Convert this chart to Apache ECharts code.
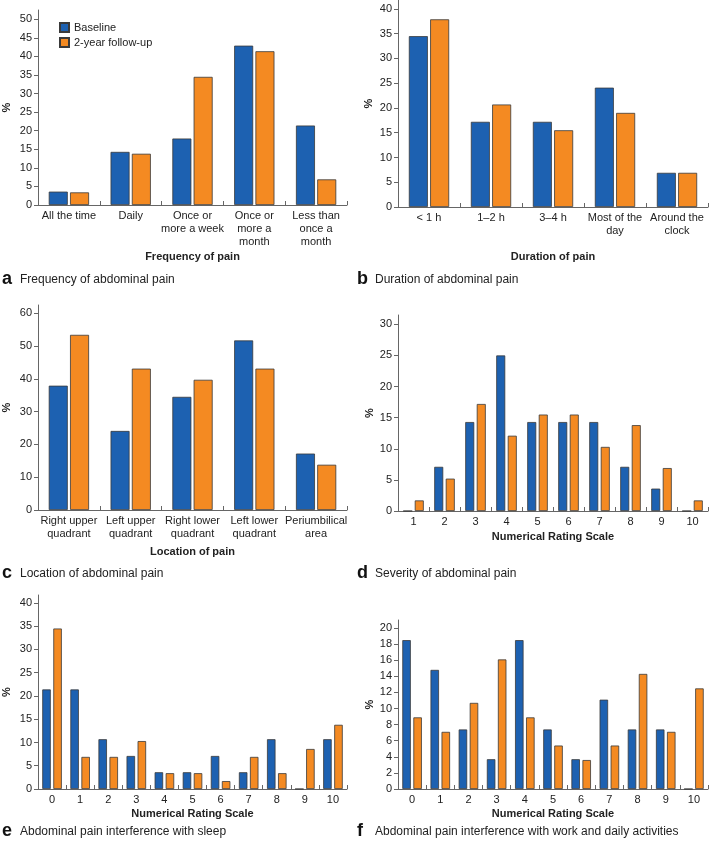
<!DOCTYPE html>
<html>
<head>
<meta charset="utf-8">
<script src="https://cdn.jsdelivr.net/npm/echarts@6/dist/echarts.min.js"></script>
<style>
html,body{margin:0;padding:0;background:#fff;}
#chart{width:709px;height:844px;}
</style>
</head>
<body>
<div id="chart"></div>
<script>
// ---------- data ----------
const seriesNames = ['Baseline', '2-year follow-up'];

const freqCats = ['All the time', 'Daily', 'Once or\nmore a week', 'Once or\nmore a\nmonth', 'Less than\nonce a\nmonth'];
const freqBase = [3.6, 14.3, 17.9, 42.9, 21.4];
const freqFollow = [3.4, 13.8, 34.5, 41.4, 6.9];
const freqTicks = [0, 5, 10, 15, 20, 25, 30, 35, 40, 45, 50];

const durCats = ['< 1 h', '1\u20132 h', '3\u20134 h', 'Most of the\nday', 'Around the\nclock'];
const durBase = [34.5, 17.2, 17.2, 24.1, 6.9];
const durFollow = [37.9, 20.7, 15.5, 19.0, 6.9];
const durTicks = [0, 5, 10, 15, 20, 25, 30, 35, 40];

const locCats = ['Right upper\nquadrant', 'Left upper\nquadrant', 'Right lower\nquadrant', 'Left lower\nquadrant', 'Periumbilical\narea'];
const locBase = [37.9, 24.1, 34.5, 51.7, 17.2];
const locFollow = [53.4, 43.1, 39.7, 43.1, 13.8];
const locTicks = [0, 10, 20, 30, 40, 50, 60];

const sevCats = ['1', '2', '3', '4', '5', '6', '7', '8', '9', '10'];
const sevBase = [0, 7.1, 14.3, 25.0, 14.3, 14.3, 14.3, 7.1, 3.6, 0];
const sevFollow = [1.7, 5.2, 17.2, 12.1, 15.5, 15.5, 10.3, 13.8, 6.9, 1.7];
const sevTicks = [0, 5, 10, 15, 20, 25, 30];

const sleepCats = ['0', '1', '2', '3', '4', '5', '6', '7', '8', '9', '10'];
const sleepBase = [21.4, 21.4, 10.7, 7.1, 3.6, 3.6, 7.1, 3.6, 10.7, 0, 10.7];
const sleepFollow = [34.5, 6.9, 6.9, 10.3, 3.4, 3.4, 1.7, 6.9, 3.4, 8.6, 13.8];
const sleepTicks = [0, 5, 10, 15, 20, 25, 30, 35, 40];

const workCats = ['0', '1', '2', '3', '4', '5', '6', '7', '8', '9', '10'];
const workBase = [18.5, 14.8, 7.4, 3.7, 18.5, 7.4, 3.7, 11.1, 7.4, 7.4, 0];
const workFollow = [8.9, 7.1, 10.7, 16.1, 8.9, 5.4, 3.6, 5.4, 14.3, 7.1, 12.5];
const workTicks = [0, 2, 4, 6, 8, 10, 12, 14, 16, 18, 20];

const axisNames = ['Frequency of pain', 'Duration of pain', 'Location of pain', 'Numerical Rating Scale', 'Numerical Rating Scale', 'Numerical Rating Scale'];
const captionLetters = ['a', 'b', 'c', 'd', 'e', 'f'];
const captionTexts = ['Frequency of abdominal pain', 'Duration of abdominal pain', 'Location of abdominal pain',
  'Severity of abdominal pain', 'Abdominal pain interference with sleep', 'Abdominal pain interference with work and daily activities'];

// ---------- layout / style ----------
const FONT = '"Liberation Sans", Arial, Helvetica, sans-serif';
const BLUE = '#1d61b1';
const ORANGE = '#f48a22';
const AXIS = '#666';
const TXT = '#222';

const panels = [
  {cats: freqCats, base: freqBase, follow: freqFollow, ticks: freqTicks, max: 52.5,
   grid: {left: 37, width: 310, top: 10, height: 195}, nameGap: 46, yNameGap: 26, barWidth: 19, barGap: '12%'},
  {cats: durCats, base: durBase, follow: durFollow, ticks: durTicks, max: 41.8,
   grid: {left: 398, width: 310, top: 0, height: 207}, nameGap: 44, yNameGap: 24, barWidth: 19, barGap: '12%'},
  {cats: locCats, base: locBase, follow: locFollow, ticks: locTicks, max: 62.5,
   grid: {left: 37, width: 310, top: 305, height: 205}, nameGap: 36, yNameGap: 26, barWidth: 19, barGap: '12%'},
  {cats: sevCats, base: sevBase, follow: sevFollow, ticks: sevTicks, max: 31.5,
   grid: {left: 398, width: 310, top: 315, height: 196}, nameGap: 20, yNameGap: 22, barWidth: 9, barGap: '28%'},
  {cats: sleepCats, base: sleepBase, follow: sleepFollow, ticks: sleepTicks, max: 41.7,
   grid: {left: 37, width: 310, top: 595, height: 194}, nameGap: 19, yNameGap: 26, barWidth: 8.5, barGap: '30%'},
  {cats: workCats, base: workBase, follow: workFollow, ticks: workTicks, max: 21,
   grid: {left: 398, width: 310, top: 620, height: 169}, nameGap: 19, yNameGap: 23, barWidth: 8.5, barGap: '30%'}
];

const captionPos = [
  {x: 2, y: 281}, {x: 357, y: 281},
  {x: 2, y: 575}, {x: 357, y: 575},
  {x: 2, y: 833}, {x: 357, y: 833}
];

const grids = [], xAxes = [], yAxes = [], series = [], graphics = [];

panels.forEach(function (p, i) {
  grids.push(p.grid);
  xAxes.push({
    type: 'category', gridIndex: i, data: p.cats,
    boundaryGap: true,
    name: axisNames[i], nameLocation: 'middle', nameGap: p.nameGap,
    nameTextStyle: {fontFamily: FONT, fontSize: 11, fontWeight: 'bold', color: TXT},
    axisLine: {lineStyle: {color: AXIS, width: 1}},
    axisTick: {show: true, inside: true, length: 4, alignWithLabel: false, interval: 0, lineStyle: {color: AXIS}},
    axisLabel: {interval: 0, fontFamily: FONT, fontSize: 11, color: TXT, lineHeight: 13, margin: 4},
    splitLine: {show: false}
  });
  yAxes.push({
    type: 'value', gridIndex: i, min: 0, max: p.max,
    name: '%', nameLocation: 'middle', nameGap: p.yNameGap,
    nameTextStyle: {fontFamily: FONT, fontSize: 11, fontWeight: 'bold', color: TXT},
    axisLine: {show: true, lineStyle: {color: AXIS, width: 1}},
    axisTick: {show: true, inside: false, length: 4, customValues: p.ticks, lineStyle: {color: AXIS}},
    axisLabel: {customValues: p.ticks, fontFamily: FONT, fontSize: 11, color: TXT, margin: 6},
    splitLine: {show: false}
  });
  [p.base, p.follow].forEach(function (vals, k) {
    series.push({
      type: 'bar', name: seriesNames[k], xAxisIndex: i, yAxisIndex: i,
      data: vals, barWidth: p.barWidth, barGap: p.barGap,
      itemStyle: {color: k === 0 ? BLUE : ORANGE, borderColor: '#3a3a3a', borderWidth: 0.8},
      emphasis: {disabled: true},
      animation: false
    });
  });
  graphics.push({
    type: 'text', left: captionPos[i].x, top: captionPos[i].y - 11,
    style: {text: captionLetters[i], font: 'bold 18px ' + FONT, fill: '#111'}
  });
  graphics.push({
    type: 'text', left: captionPos[i].x + 18, top: captionPos[i].y - 7,
    style: {text: captionTexts[i], font: '12px ' + FONT, fill: '#222'}
  });
});

const chart = echarts.init(document.getElementById('chart'), null, {renderer: 'canvas'});
chart.setOption({
  animation: false,
  backgroundColor: '#fff',
  grid: grids,
  xAxis: xAxes,
  yAxis: yAxes,
  series: series,
  legend: {
    data: seriesNames, orient: 'vertical', left: 54, top: 17,
    itemWidth: 9, itemHeight: 9, itemGap: 4, icon: 'rect',
    textStyle: {fontFamily: FONT, fontSize: 11, color: TXT},
    selectedMode: false
  },
  graphic: graphics
});
</script>
</body>
</html>
